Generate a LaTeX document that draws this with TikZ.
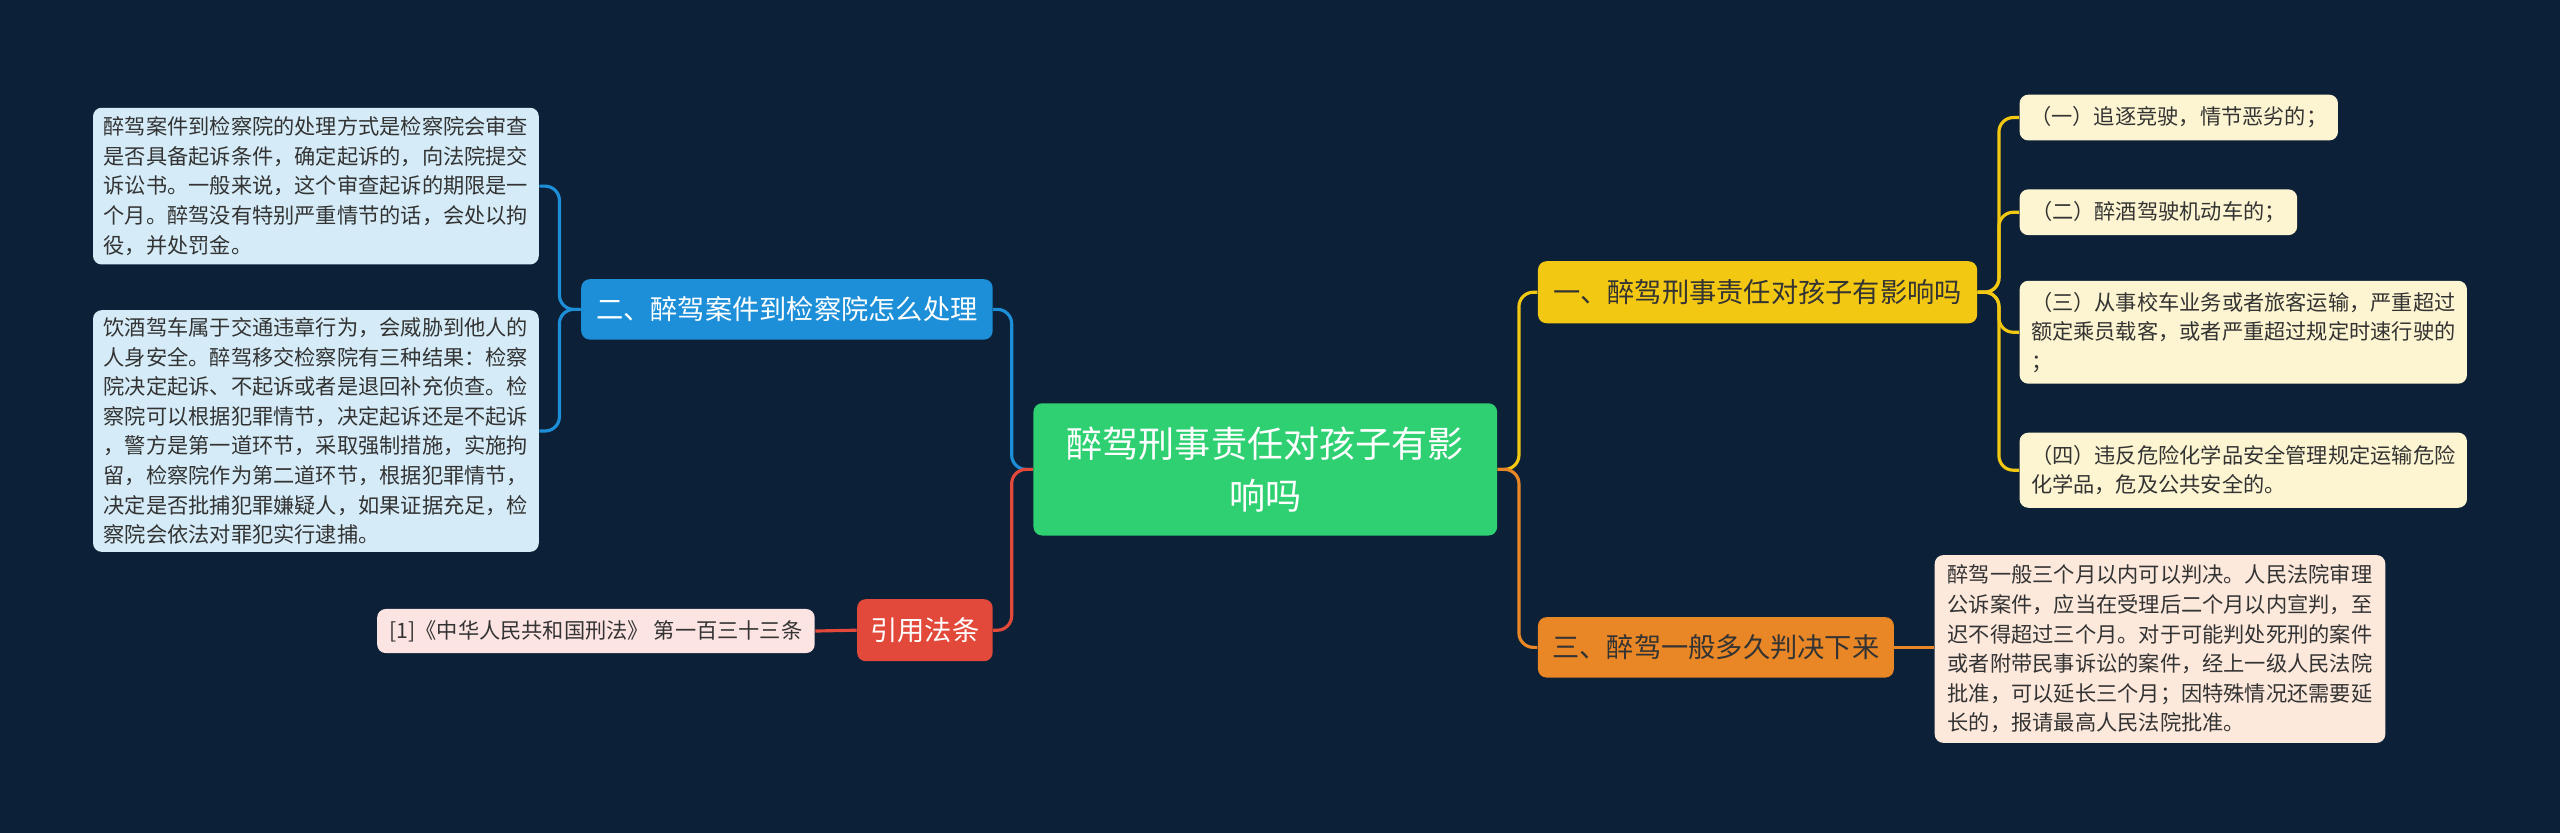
\documentclass[tikz,border=0pt]{standalone}
\usepackage{fontspec}
\setmainfont{Noto Sans CJK SC}
\definecolor{bg}{HTML}{0C2037}
\definecolor{cgreen}{HTML}{2FD072}
\definecolor{cblue}{HTML}{1C8FD8}
\definecolor{cred}{HTML}{E2493A}
\definecolor{cyel}{HTML}{F2C812}
\definecolor{corg}{HTML}{E98625}
\definecolor{lblue}{HTML}{D5ECF8}
\definecolor{lpink}{HTML}{FCE4E3}
\definecolor{lyel}{HTML}{FDF5D1}
\definecolor{lorg}{HTML}{FCE9DC}
\definecolor{dtext}{HTML}{333333}
\begin{document}
\begin{tikzpicture}[x=0.02cm,y=-0.02cm,
  box/.style={rounded corners=3pt,inner sep=0pt,anchor=center},
  leaf/.style={box,font=\fontsize{7.4pt}{10.3pt}\selectfont,text=dtext,align=left},
  br/.style={box,font=\fontsize{9.5pt}{12pt}\selectfont,align=center},
  con/.style={line width=1.1pt,rounded corners=5pt}]
\fill[bg] (0,0) rectangle (1568,510);
\node[box,fill=cgreen,text=white,minimum width=284*0.02cm,minimum height=81*0.02cm,font=\fontsize{12.6pt}{18pt}\selectfont,align=center] (c) at (775,287.5) {醉驾刑事责任对孩子有影\\响吗};
\node[br,fill=cblue,text=white,minimum width=252*0.02cm,minimum height=37*0.02cm] (b1) at (482,189.5) {二、醉驾案件到检察院怎么处理};
\node[br,fill=cred,text=white,minimum width=83*0.02cm,minimum height=38*0.02cm] (b2) at (566.5,386) {引用法条};
\node[br,fill=cyel,text=dtext,minimum width=269*0.02cm,minimum height=38*0.02cm] (b3) at (1076.5,179) {一、醉驾刑事责任对孩子有影响吗};
\node[br,fill=corg,text=dtext,minimum width=218*0.02cm,minimum height=37*0.02cm] (b4) at (1051,396.5) {三、醉驾一般多久判决下来};
\node[leaf,fill=lblue,minimum width=273*0.02cm,minimum height=96*0.02cm] (l1) at (193.5,114) {醉驾案件到检察院的处理方式是检察院会审查\\是否具备起诉条件，确定起诉的，向法院提交\\诉讼书。一般来说，这个审查起诉的期限是一\\个月。醉驾没有特别严重情节的话，会处以拘\\役，并处罚金。};
\node[leaf,fill=lblue,minimum width=273*0.02cm,minimum height=148*0.02cm] (l2) at (193.5,264) {饮酒驾车属于交通违章行为，会威胁到他人的\\人身安全。醉驾移交检察院有三种结果：检察\\院决定起诉、不起诉或者是退回补充侦查。检\\察院可以根据犯罪情节，决定起诉还是不起诉\\，警方是第一道环节，采取强制措施，实施拘\\留，检察院作为第二道环节，根据犯罪情节，\\决定是否批捕犯罪嫌疑人，如果证据充足，检\\察院会依法对罪犯实行逮捕。};
\node[leaf,fill=lpink,minimum width=268*0.02cm,minimum height=27*0.02cm] (l3) at (365,386.5) {[1]《中华人民共和国刑法》 第一百三十三条};
\node[leaf,fill=lyel,minimum width=195*0.02cm,minimum height=28*0.02cm] (r1) at (1334.5,72) {（一）追逐竞驶，情节恶劣的；};
\node[leaf,fill=lyel,minimum width=170*0.02cm,minimum height=28*0.02cm] (r2) at (1322,130) {（二）醉酒驾驶机动车的；};
\node[leaf,fill=lyel,minimum width=274*0.02cm,minimum height=63*0.02cm] (r3) at (1374,203.5) {（三）从事校车业务或者旅客运输，严重超过\\额定乘员载客，或者严重超过规定时速行驶的\\；};
\node[leaf,fill=lyel,minimum width=274*0.02cm,minimum height=46*0.02cm] (r4) at (1374,288) {（四）违反危险化学品安全管理规定运输危险\\化学品，危及公共安全的。};
\node[leaf,fill=lorg,minimum width=276*0.02cm,minimum height=115*0.02cm] (o1) at (1323,397.5) {醉驾一般三个月以内可以判决。人民法院审理\\公诉案件，应当在受理后二个月以内宣判，至\\迟不得超过三个月。对于可能判处死刑的案件\\或者附带民事诉讼的案件，经上一级人民法院\\批准，可以延长三个月；因特殊情况还需要延\\长的，报请最高人民法院批准。};
% connectors
\draw[con,cblue] (c.west) -- ++(-13,0) |- (b1.east);
\draw[con,cred] (c.west) -- ++(-13,0) |- (b2.east);
\draw[con,cyel] (c.east) -- ++(13,0) |- (b3.west);
\draw[con,corg] (c.east) -- ++(13,0) |- (b4.west);
\draw[con,cblue] (b1.west) -- ++(-13,0) |- (l1.east);
\draw[con,cblue] (b1.west) -- ++(-13,0) |- (l2.east);
\draw[con,cred] (b2.west) -- (l3.east);
\foreach \n in {r1,r2,r3,r4}{\draw[con,cyel] (b3.east) -- ++(13,0) |- (\n.west);}
\draw[con,corg] (b4.east) -- (o1.west|-b4.east);
\end{tikzpicture}
\end{document}
